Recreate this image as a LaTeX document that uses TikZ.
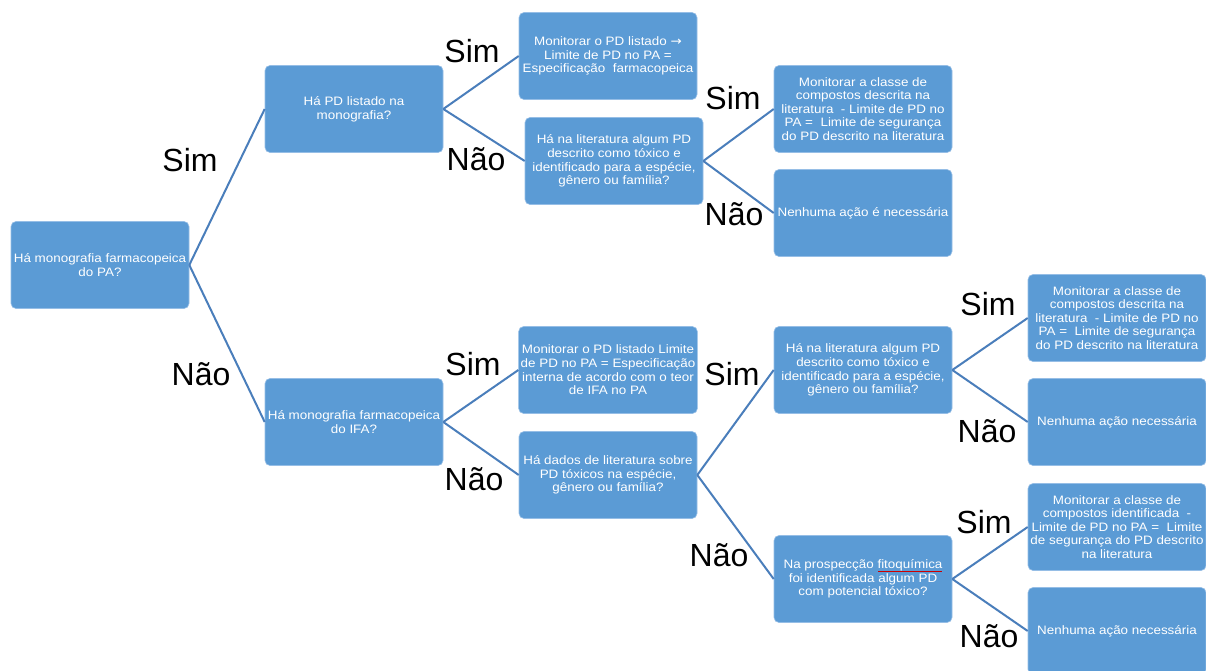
\documentclass[tikz,border=0pt]{standalone}
\usepackage{fontspec}
\setmainfont{Liberation Sans}
\newfontfamily\boxfont[FakeStretch=1.1]{Liberation Sans}
\newfontfamily\symfont[FakeStretch=1.1]{DejaVu Sans}
\definecolor{boxblue}{RGB}{91,155,213}
\definecolor{boxedge}{RGB}{150,190,230}
\definecolor{linkblue}{RGB}{74,126,187}
\begin{document}
\begin{tikzpicture}[x=1pt,y=-1pt,
  box/.style={draw=boxedge,line width=0.6pt,fill=boxblue,rounded corners=5pt,
    minimum width=178pt,minimum height=87pt,inner sep=2pt,align=center,
    text=white,font=\boxfont\fontsize{12.2}{13.6}\selectfont},
  link/.style={draw=linkblue,line width=2pt},
  yes/.style={font=\fontsize{32}{36}\selectfont,text=black,inner sep=0pt}]
\useasboundingbox (0,0) rectangle (1206,670);
\fill[white] (0,0) rectangle (1206,670);

\node[box] (root) at (100,265) {Há monografia farmacopeica\\do PA?};
\node[box] (pdlist) at (354,109) {Há PD listado na\\monografia?};
\node[box] (ifa) at (354,422) {Há monografia farmacopeica\\do IFA?};
\node[box] (mon1) at (608,56) {Monitorar o PD listado {\symfont →}\\Limite de PD no PA =\\Especificação\ \ farmacopeica};
\node[box] (lit1) at (614,161) {Há na literatura algum PD\\descrito como tóxico e\\identificado para a espécie,\\gênero ou família?};
\node[box] (mon2) at (608,370) {Monitorar o PD listado Limite\\de PD no PA = Especificação\\interna de acordo com o teor\\de IFA no PA};
\node[box] (dados) at (608,475) {Há dados de literatura sobre\\PD tóxicos na espécie,\\gênero ou família?};
\node[box] (cls1) at (863,109) {Monitorar a classe de\\compostos descrita na\\literatura\ \ - Limite de PD no\\PA =\ \ Limite de segurança\\do PD descrito na literatura};
\node[box] (none1) at (863,213) {Nenhuma ação é necessária};
\node[box] (lit2) at (863,370) {Há na literatura algum PD\\descrito como tóxico e\\identificado para a espécie,\\gênero ou família?};
\node[box] (prosp) at (863,579) {Na prospecção fitoquímica\\foi identificada algum PD\\com potencial tóxico?};
\node[box] (cls2) at (1117,318) {Monitorar a classe de\\compostos descrita na\\literatura\ \ - Limite de PD no\\PA =\ \ Limite de segurança\\do PD descrito na literatura};
\node[box] (none2) at (1117,422) {Nenhuma ação necessária};
\node[box] (cls3) at (1117,527) {Monitorar a classe de\\compostos identificada\ \ -\\Limite de PD no PA =\ \ Limite\\de segurança do PD descrito\\na literatura};
\node[box] (none3) at (1117,631) {Nenhuma ação necessária};

% spell-check underline under "fitoquímica"
\coordinate (ulA) at (878,571.5);
\coordinate (ulB) at (942,571.5);
\draw[red!80!black,line width=0.6pt] (ulA) -- (ulB);

\draw[link] (root.east) -- (pdlist.west);
\draw[link] (root.east) -- (ifa.west);
\draw[link] (pdlist.east) -- (mon1.west);
\draw[link] (pdlist.east) -- (lit1.west);
\draw[link] (lit1.east) -- (cls1.west);
\draw[link] (lit1.east) -- (none1.west);
\draw[link] (ifa.east) -- (mon2.west);
\draw[link] (ifa.east) -- (dados.west);
\draw[link] (dados.east) -- (lit2.west);
\draw[link] (dados.east) -- (prosp.west);
\draw[link] (lit2.east) -- (cls2.west);
\draw[link] (lit2.east) -- (none2.west);
\draw[link] (prosp.east) -- (cls3.west);
\draw[link] (prosp.east) -- (none3.west);

\node[yes] (l1) at (190,160) {Sim};
\node[yes] (l2) at (201,374) {Não};
\node[yes] (l3) at (472,51) {Sim};
\node[yes] (l4) at (476,159) {Não};
\node[yes] (l5) at (733,98) {Sim};
\node[yes] (l6) at (734,214) {Não};
\node[yes] (l7) at (473,364) {Sim};
\node[yes] (l8) at (474,479) {Não};
\node[yes] (l9) at (732,374) {Sim};
\node[yes] (l10) at (719,555) {Não};
\node[yes] (l11) at (988,304) {Sim};
\node[yes] (l12) at (987,431) {Não};
\node[yes] (l13) at (984,522) {Sim};
\node[yes] (l14) at (989,636) {Não};
\end{tikzpicture}
\end{document}
